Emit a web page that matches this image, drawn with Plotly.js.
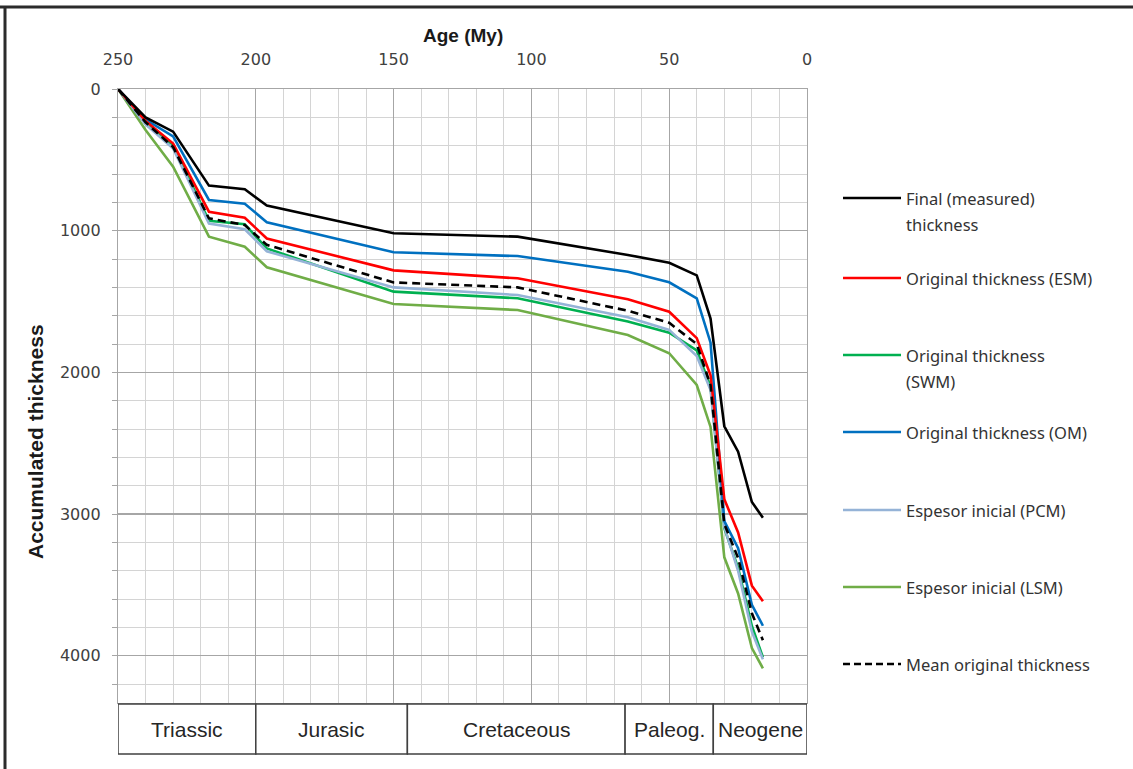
<!DOCTYPE html>
<html>
<head>
<meta charset="utf-8">
<script src="https://cdn.plot.ly/plotly-3.0.1.min.js"></script>
<style>
  html, body { margin: 0; padding: 0; background: #ffffff; }
  #chart { width: 1133px; height: 769px; }
</style>
</head>
<body>
<div id="chart"></div>
<script>
// ---- Data ----
const ages = [250, 240, 230, 217, 204, 196, 150, 105, 65, 50, 40, 35, 30, 25, 20, 16];

const finalMeasured = [0, 200, 301, 682, 708, 822, 1018, 1042, 1171, 1226, 1315, 1620, 2380, 2560, 2915, 3025];
const originalESM   = [0, 225, 385, 866, 909, 1055, 1280, 1336, 1484, 1572, 1758, 2020, 2895, 3130, 3505, 3615];
const originalSWM   = [0, 245, 395, 930, 955, 1125, 1430, 1477, 1640, 1720, 1845, 2100, 3100, 3380, 3790, 4010];
const originalOM    = [0, 216, 335, 783, 810, 940, 1152, 1179, 1290, 1364, 1477, 1790, 3050, 3240, 3640, 3788];
const inicialPCM    = [0, 250, 420, 950, 990, 1145, 1400, 1454, 1610, 1700, 1885, 2124, 3090, 3400, 3830, 4025];
const inicialLSM    = [0, 290, 548, 1042, 1113, 1258, 1517, 1560, 1736, 1865, 2089, 2385, 3305, 3560, 3945, 4088];
const meanOriginal  = [0, 235, 410, 913, 960, 1100, 1365, 1400, 1565, 1650, 1800, 2090, 3070, 3310, 3700, 3890];

const seriesNames = [
  ["Final (measured)", "thickness"],
  ["Original thickness (ESM)"],
  ["Original thickness", "(SWM)"],
  ["Original thickness (OM)"],
  ["Espesor inicial (PCM)"],
  ["Espesor inicial (LSM)"],
  ["Mean original thickness"]
];
const seriesValues = [finalMeasured, originalESM, originalSWM, originalOM, inicialPCM, inicialLSM, meanOriginal];
const seriesColors = ["#000000", "#ff0000", "#00b050", "#0070c0", "#95b3d7", "#70ad47", "#000000"];
const seriesDash   = ["solid", "solid", "solid", "solid", "solid", "solid", "8px,5px"];

const periodNames = ["Triassic", "Jurasic", "Cretaceous", "Paleog.", "Neogene"];
const periodBounds = [250, 200, 145, 66, 34, 0];

const xTickVals = [250, 200, 150, 100, 50, 0];
const yTickVals = [0, 1000, 2000, 3000, 4000];

// ---- Layout helpers (pixel -> paper) ----
const W = 1133, H = 769;
const PL = 118, PR = 807, PT = 89, PB = 703;
const px = x => (x - PL) / (PR - PL);
const py = y => (PB - y) / (PB - PT);

// ---- Traces (mean dashed drawn last, on top) ----
const drawOrder = [5, 2, 4, 3, 1, 0, 6];
const traces = drawOrder.map(i => ({
  type: "scatter",
  mode: "lines",
  x: ages,
  y: seriesValues[i],
  name: seriesNames[i].join(" "),
  line: { color: seriesColors[i], width: 2.6, dash: seriesDash[i] },
  hovertemplate: "%{x} My: %{y}<extra>" + seriesNames[i].join(" ") + "</extra>"
}));

// ---- Shapes and annotations ----
const shapes = [];
const annotations = [];

// outer frame (top and left edges)
shapes.push({
  type: "line", xref: "paper", yref: "paper",
  x0: px(0), x1: px(W), y0: py(7), y1: py(7),
  line: { color: "#2b2b2b", width: 3 }, layer: "above"
});
shapes.push({
  type: "line", xref: "paper", yref: "paper",
  x0: px(5), x1: px(5), y0: py(7), y1: py(H),
  line: { color: "#2b2b2b", width: 3 }, layer: "above"
});

// period boxes
for (let i = 0; i < periodNames.length; i++) {
  shapes.push({
    type: "rect", xref: "x", yref: "paper",
    x0: periodBounds[i], x1: periodBounds[i + 1],
    y0: py(754), y1: py(704),
    line: { color: "#404040", width: 1.5 }, fillcolor: "#ffffff", layer: "above"
  });
  annotations.push({
    xref: "x", yref: "paper",
    x: (periodBounds[i] + periodBounds[i + 1]) / 2, y: py(729),
    text: periodNames[i], showarrow: false,
    xanchor: "center", yanchor: "middle",
    font: { family: "Liberation Sans, Arial, sans-serif", size: 21, color: "#262626" }
  });
}

// legend (custom, positioned like the reference)
const legendY = [198, 278, 355, 432, 510, 587, 664];
for (let i = 0; i < seriesNames.length; i++) {
  shapes.push({
    type: "line", xref: "paper", yref: "paper",
    x0: px(843), x1: px(901), y0: py(legendY[i]), y1: py(legendY[i]),
    line: { color: seriesColors[i], width: 2.6, dash: i === 6 ? "7px,4px" : "solid" }
  });
  seriesNames[i].forEach((t, k) => {
    annotations.push({
      xref: "paper", yref: "paper",
      x: px(904), y: py(legendY[i] + k * 26),
      text: t, showarrow: false, xanchor: "left", yanchor: "middle",
      font: { family: "Noto Sans, Open Sans, sans-serif", size: 16.5, color: "#333333" }
    });
  });
}

// axis titles
annotations.push({
  xref: "paper", yref: "paper", x: px(463), y: py(36),
  text: "<b>Age (My)</b>", showarrow: false, xanchor: "center", yanchor: "middle",
  font: { family: "Liberation Sans, Arial, sans-serif", size: 19, color: "#1a1a1a" }
});
annotations.push({
  xref: "paper", yref: "paper", x: px(35), y: py(442),
  text: "<b>Accumulated thickness</b>", showarrow: false, textangle: -90,
  xanchor: "center", yanchor: "middle",
  font: { family: "Liberation Sans, Arial, sans-serif", size: 21, color: "#1a1a1a" }
});

const layout = {
  width: W, height: H,
  margin: { l: PL, r: W - PR, t: PT, b: H - PB, pad: 0 },
  paper_bgcolor: "#ffffff",
  plot_bgcolor: "#ffffff",
  showlegend: false,
  xaxis: {
    range: [250, 0], side: "top",
    tickmode: "array", tickvals: xTickVals, ticktext: xTickVals.map(String),
    showgrid: true, gridcolor: "#a6a6a6", gridwidth: 1.2,
    minor: { dtick: 10, tick0: 0, showgrid: true, gridcolor: "#d4d4d4", gridwidth: 1 },
    zeroline: false, showline: true, linecolor: "#a6a6a6", linewidth: 1.2, mirror: true,
    ticks: "", ticklabelstandoff: 16,
    tickfont: { family: "DejaVu Sans, Verdana, sans-serif", size: 16, color: "#404040" }
  },
  yaxis: {
    range: [(PB - PT) / 141.7 * 1000, 0],
    tickmode: "array", tickvals: yTickVals, ticktext: yTickVals.map(String),
    showgrid: true, gridcolor: "#a6a6a6", gridwidth: 1.2,
    minor: { dtick: 200, tick0: 0, showgrid: true, gridcolor: "#d4d4d4", gridwidth: 1,
             ticks: "outside", ticklen: 5, tickcolor: "#a6a6a6" },
    zeroline: false, showline: true, linecolor: "#a6a6a6", linewidth: 1.2, mirror: true,
    ticks: "outside", ticklen: 5, tickcolor: "#a6a6a6", ticklabelstandoff: 8,
    tickfont: { family: "DejaVu Sans, Verdana, sans-serif", size: 16, color: "#404040" }
  },
  shapes: shapes,
  annotations: annotations
};

Plotly.newPlot("chart", traces, layout, { displayModeBar: false, staticPlot: true });
</script>
</body>
</html>
